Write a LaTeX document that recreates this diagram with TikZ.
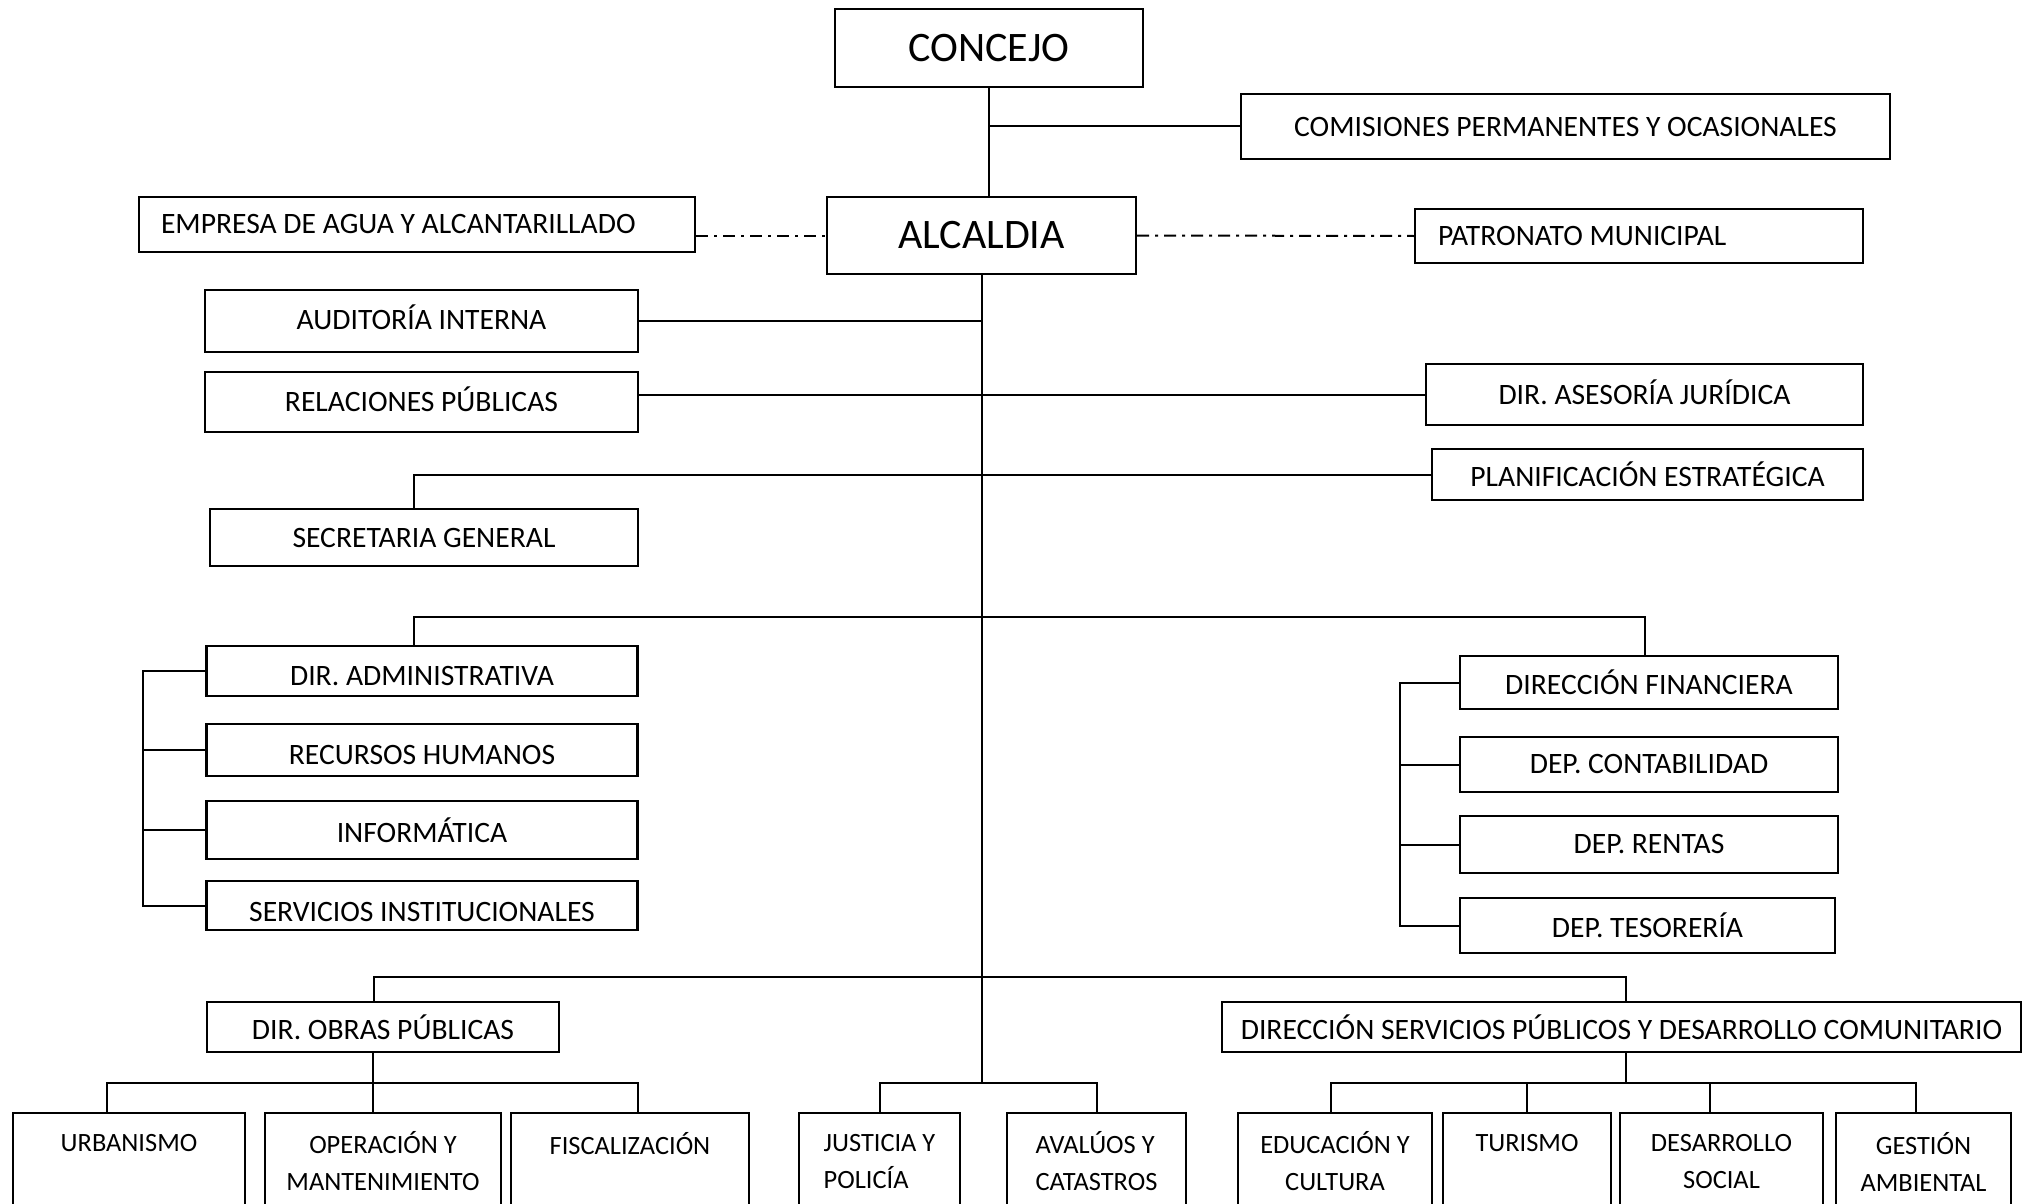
\documentclass[tikz,border=0pt]{standalone}
\usepackage{fontspec}
\setmainfont{Carlito}
\usepackage{tikz}
\usetikzlibrary{positioning, calc}

\begin{document}
\begin{tikzpicture}[
        x=0.5pt, y=-0.5pt,
        box/.style={rectangle, draw, line width=1.2pt, inner sep=0pt, align=center, font=\fontsize{14.8}{18}\selectfont},
        big/.style={box, font=\fontsize{21}{25}\selectfont},
        leaf/.style={box, minimum height=48.5pt, font=\fontsize{13.2}{18.5}\selectfont},
        link/.style={line width=1pt},
        looselink/.style={line width=1pt, dash pattern=on 6pt off 3pt on 1.5pt off 3pt}
    ]
        \useasboundingbox (0,0) rectangle (2024,1204);

        % Concejo y Alcaldia
        \node[big, minimum width=154pt, minimum height=39pt] (concejo) at (989,48) {CONCEJO};
        \node[box, minimum width=324.5pt, minimum height=32.5pt] (comisiones) at (1565.5,126.5) {COMISIONES PERMANENTES Y OCASIONALES};
        \node[big, minimum width=154.5pt, minimum height=38.5pt] (alcaldia) at (981.5,235.5) {ALCALDIA};
        \node[box, minimum height=27.5pt, inner xsep=11pt] (empresa) at (417,224.5) {\makebox[256pt][l]{EMPRESA DE AGUA Y ALCANTARILLADO}};
        \node[box, minimum height=27pt, inner xsep=11.5pt] (patronato) at (1639,236) {\makebox[201pt][l]{PATRONATO MUNICIPAL}};

        % Asesoria y apoyo
        \node[box, minimum width=216.5pt, minimum height=31pt] (auditoria) at (421.5,321) {\raisebox{2pt}[\height][\depth]{AUDITORÍA INTERNA}};
        \node[box, minimum width=216.5pt, minimum height=30pt] (relaciones) at (421.5,402) {\raisebox{1.3pt}[\height][\depth]{RELACIONES PÚBLICAS}};
        \node[box, minimum width=218.5pt, minimum height=30.5pt] (asesoria) at (1644.5,394.5) {\raisebox{1.3pt}[\height][\depth]{DIR. ASESORÍA JURÍDICA}};
        \node[box, minimum width=215.5pt, minimum height=25.5pt] (planif) at (1647.5,474.5) {PLANIFICACIÓN ESTRATÉGICA};
        \node[box, minimum width=214pt, minimum height=28.5pt] (secretaria) at (424,537.5) {SECRETARIA GENERAL};

        % Direccion administrativa
        \node[box, minimum width=215.5pt, minimum height=25pt] (diradmin) at (422,671) {\raisebox{-2.5pt}[\height][\depth]{DIR. ADMINISTRATIVA}};
        \node[box, minimum width=215.5pt, minimum height=26pt] (recursos) at (422,750) {\raisebox{-2.5pt}[\height][\depth]{RECURSOS HUMANOS}};
        \node[box, minimum width=215.5pt, minimum height=29pt] (informatica) at (422,830) {INFORMÁTICA};
        \node[box, minimum width=215.5pt, minimum height=24.5pt] (servicios) at (422,905.5) {\raisebox{-3pt}[\height][\depth]{SERVICIOS INSTITUCIONALES}};

        % Direccion financiera
        \node[box, minimum width=189pt, minimum height=26.5pt] (dirfin) at (1649,682.5) {DIRECCIÓN FINANCIERA};
        \node[box, minimum width=189pt, minimum height=27.5pt] (contab) at (1649,764.5) {DEP. CONTABILIDAD};
        \node[box, minimum width=189pt, minimum height=28.5pt] (rentas) at (1649,844.5) {DEP. RENTAS};
        \node[box, minimum width=187.5pt, minimum height=27.5pt] (tesoreria) at (1647.5,925.5) {DEP. TESORERÍA};

        % Direcciones operativas
        \node[box, minimum width=176pt, minimum height=25pt] (dirobras) at (383,1027) {DIR. OBRAS PÚBLICAS};
        \node[box, minimum width=399.5pt, minimum height=25pt] (dirserv) at (1621.5,1027) {DIRECCIÓN SERVICIOS PÚBLICOS Y DESARROLLO COMUNITARIO};

        % Unidades
        \node[leaf, minimum width=116pt] (urbanismo) at (129,1161.5) {URBANISMO\\~};
        \node[leaf, minimum width=118pt] (operacion) at (383,1161.5) {OPERACIÓN Y\\MANTENIMIENTO};
        \node[leaf, minimum width=119pt] (fiscalizacion) at (630,1161.5) {FISCALIZACIÓN\\~};
        \node[leaf, minimum width=80.5pt, align=left] (justicia) at (879.5,1161.5) {JUSTICIA Y\\POLICÍA};
        \node[leaf, minimum width=89.5pt, align=left] (avaluos) at (1096.5,1161.5) {AVALÚOS Y\\CATASTROS};
        \node[leaf, minimum width=97pt] (educacion) at (1335,1161.5) {EDUCACIÓN Y\\CULTURA};
        \node[leaf, minimum width=84pt] (turismo) at (1527,1161.5) {TURISMO\\~};
        \node[leaf, minimum width=101.5pt] (desarrollo) at (1721.5,1161.5) {DESARROLLO\\SOCIAL};
        \node[leaf, minimum width=87.5pt] (gestion) at (1923.5,1161.5) {GESTIÓN\\AMBIENTAL};

        % Niveles de las lineas
        \coordinate (mid) at (0,617);
        \coordinate (bus) at (0,977);
        \coordinate (low) at (0,1084);

        % Connections
        \draw[link] (concejo.south) -- (concejo.south |- alcaldia.north);
        \draw[link] (concejo.south |- comisiones.west) -- (comisiones.west);
        \draw[looselink] (empresa.east |- alcaldia) -- (alcaldia.west);
        \draw[looselink] (alcaldia.east) -- (patronato.west);
        \draw[link] (alcaldia.south) -- (alcaldia.south |- low);
        \draw[link] (auditoria.east) -- (alcaldia.south |- auditoria.east);
        \draw[link] (relaciones.east |- asesoria.west) -- (asesoria.west);
        \draw[link] ([xshift=-5pt]secretaria.north) |- (planif.west);
        \draw[link] ([xshift=-4pt]diradmin.north) -- ([xshift=-4pt]diradmin.north |- mid) -| ([xshift=-2pt]dirfin.north);
        \draw[link] (diradmin.west) -- ++(-62,0) |- (servicios.west);
        \foreach \n in {recursos, informatica}
            \draw[link] (\n.west) -- ++(-62,0);
        \draw[link] (dirfin.west) -- ++(-59,0) |- (tesoreria.west);
        \foreach \n in {contab, rentas}
            \draw[link] (\n.west) -- ++(-59,0);
        \draw[link] ([xshift=-4.5pt]dirobras.north) -- ([xshift=-4.5pt]dirobras.north |- bus) -| ([xshift=2pt]dirserv.north);

        % Obras publicas
        \draw[link] ([xshift=-5pt]dirobras.south) -- ([xshift=-5pt]dirobras.south |- operacion.north);
        \draw[link] ([xshift=-11pt]urbanismo.north) -- ++(0,-29) -| ([xshift=4pt]fiscalizacion.north);

        % Alcaldia directa
        \draw[link] (justicia.north) -- ++(0,-29) -| (avaluos.north);

        % Servicios publicos
        \draw[link] ([xshift=2pt]dirserv.south) -- ([xshift=2pt]dirserv.south |- low);
        \draw[link] ([xshift=-2pt]educacion.north) -- ++(0,-29) -| ([xshift=-4pt]gestion.north);
        \draw[link] (turismo.north) -- ++(0,-29);
        \draw[link] ([xshift=-6pt]desarrollo.north) -- ++(0,-29);
\end{tikzpicture}
\end{document}
